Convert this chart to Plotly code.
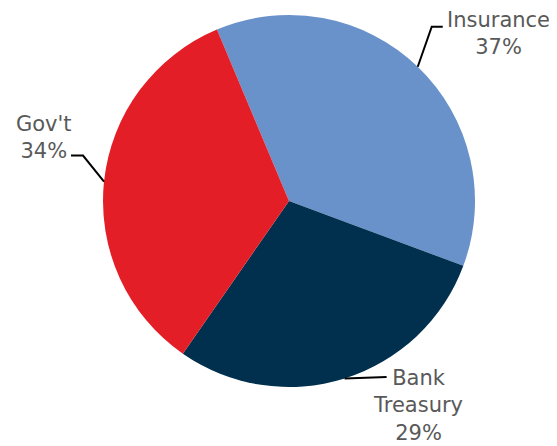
import math
import plotly.graph_objects as go

labels = ["Insurance", "Bank Treasury", "Gov't"]
text_labels = ["Insurance<br>37%", "Bank<br>Treasury<br>29%", "Gov't<br>34%"]
values = [37, 29, 34]
colors = ["#6A92CA", "#00304E", "#E31E26"]
rotation = -22.8

OFF = 8  # page body margin
W, H = 557 - OFF, 446 - OFF
cx, cy, r = 289 - OFF, 201 - OFF, 186

fig = go.Figure()
fig.add_trace(go.Pie(
    labels=labels, values=values, sort=False, direction="clockwise",
    rotation=rotation, marker=dict(colors=colors, line=dict(width=0)),
    textinfo="none", hoverinfo="label+percent", showlegend=False,
    domain=dict(x=[(cx - r) / W, (cx + r) / W], y=[(H - cy - r) / H, (H - cy + r) / H]),
))

# leader lines & labels, anchored at slice mid-angles
elbows = [((14, -40), (25, -40)), ((42, -1.5), (42, -1.5)), ((-21, -26), (-33, -26))]
text_pos = [(498 - OFF, 33 - OFF), (418 - OFF, 405 - OFF), (44 - OFF, 137 - OFF)]
total = sum(values)
start = rotation
shapes = []
annotations = []
for i, v in enumerate(values):
    mid = start + v / total * 360 / 2
    start += v / total * 360
    a = math.radians(mid)
    ex, ey = cx + r * math.sin(a), cy - r * math.cos(a)
    (dx1, dy1), (dx2, dy2) = elbows[i]
    p1 = (ex + dx1, ey + dy1)
    p2 = (ex + dx2, ey + dy2)
    shapes.append(dict(type="path", xref="x", yref="y",
                       path=f"M {ex},{ey} L {p1[0]},{p1[1]} L {p2[0]},{p2[1]}",
                       line=dict(color="black", width=2)))
    tx, ty = text_pos[i]
    annotations.append(dict(x=tx, y=ty, xref="x", yref="y", text=text_labels[i],
                            showarrow=False, align="center", borderpad=0,
                            font=dict(family="DejaVu Sans", size=21, color="#595959")))

fig.update_layout(
    width=W, height=H, margin=dict(l=0, r=0, t=0, b=0),
    paper_bgcolor="white", plot_bgcolor="rgba(0,0,0,0)",
    xaxis=dict(range=[0, W], visible=False, fixedrange=True),
    yaxis=dict(range=[H, 0], visible=False, fixedrange=True),
    shapes=shapes, annotations=annotations,
)
fig.write_html("out.html")
